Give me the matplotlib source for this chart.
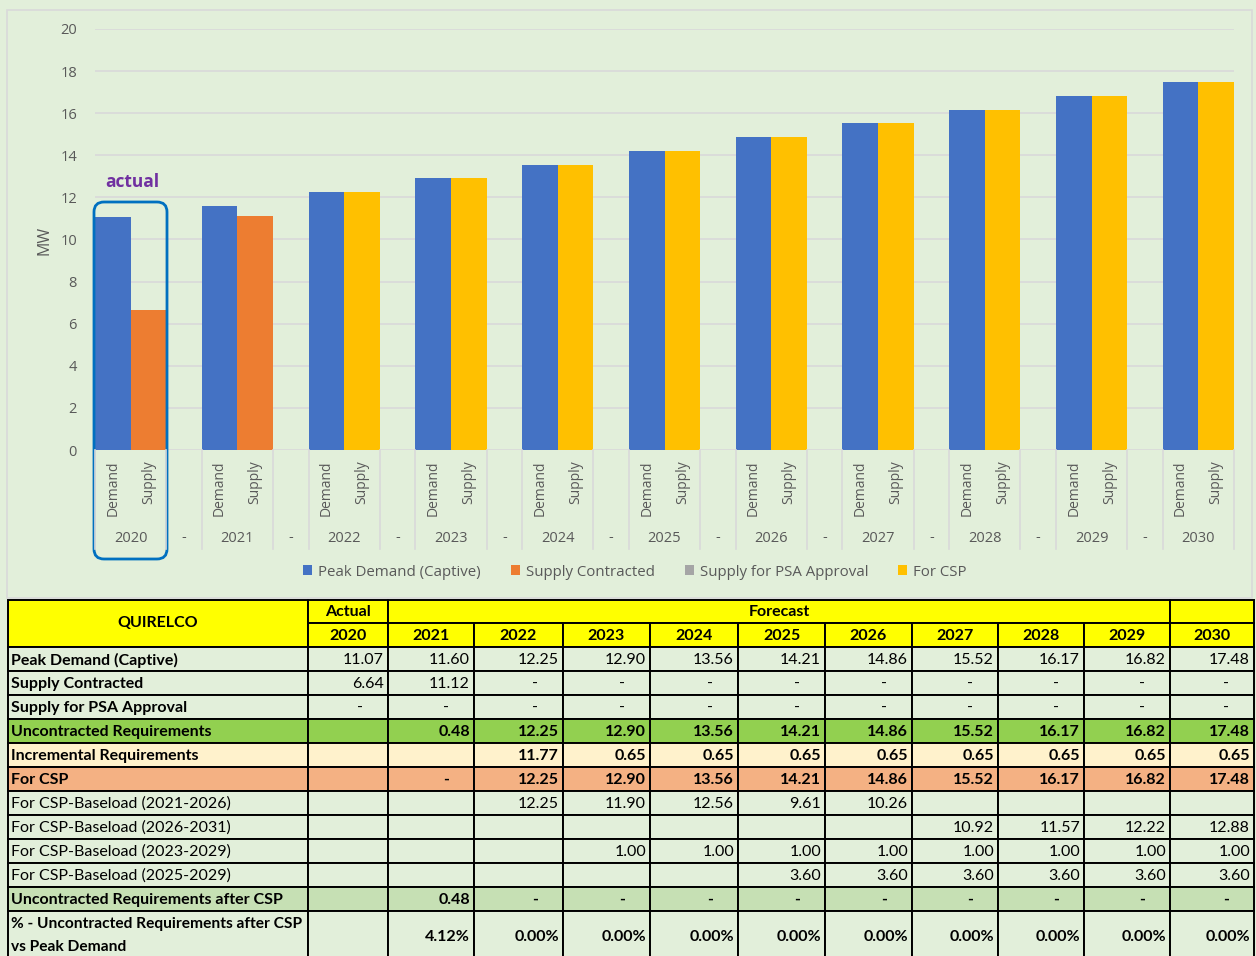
import numpy as np
import matplotlib.pyplot as plt
from matplotlib.patches import Rectangle, FancyBboxPatch
from matplotlib.transforms import blended_transform_factory

# chart data
years = [2020, 2021, 2022, 2023, 2024, 2025, 2026, 2027, 2028, 2029, 2030]
peak_demand = [11.07, 11.60, 12.25, 12.90, 13.56, 14.21, 14.86, 15.52, 16.17, 16.82, 17.48]
supply_contracted = [6.64, 11.12, 0, 0, 0, 0, 0, 0, 0, 0, 0]
psa_approval = [0, 0, 0, 0, 0, 0, 0, 0, 0, 0, 0]
for_csp = [None, 0, 12.25, 12.90, 13.56, 14.21, 14.86, 15.52, 16.17, 16.82, 17.48]

# table-only rows
uncontracted = [None, 0.48, 12.25, 12.90, 13.56, 14.21, 14.86, 15.52, 16.17, 16.82, 17.48]
incremental = [None, None, 11.77, 0.65, 0.65, 0.65, 0.65, 0.65, 0.65, 0.65, 0.65]
csp_2021_2026 = [None, None, 12.25, 11.90, 12.56, 9.61, 10.26, None, None, None, None]
csp_2026_2031 = [None, None, None, None, None, None, None, 10.92, 11.57, 12.22, 12.88]
csp_2023_2029 = [None, None, None, 1.00, 1.00, 1.00, 1.00, 1.00, 1.00, 1.00, 1.00]
csp_2025_2029 = [None, None, None, None, None, 3.60, 3.60, 3.60, 3.60, 3.60, 3.60]
uncontracted_after = [None, 0.48, 0, 0, 0, 0, 0, 0, 0, 0, 0]
pct_uncontracted = [None, 4.12, 0.00, 0.00, 0.00, 0.00, 0.00, 0.00, 0.00, 0.00, 0.00]

BG = '#E2EFDA'
GRID = '#D9D9D9'
TXT = '#595959'
CHART_FONT = ['Open Sans', 'DejaVu Sans']
TABLE_FONT = ['Lato', 'DejaVu Sans']

W, H = 1256, 956
fig = plt.figure(figsize=(W / 100, H / 100), dpi=100, facecolor=BG)

# ---- bar chart ----
ax = fig.add_axes([95 / W, 1 - 450 / H, (1234 - 95) / W, 421 / H])
ax.set_facecolor('none')

x_dem = np.arange(len(years)) * 3
x_sup = x_dem + 1
csp = np.array([v if v is not None else 0 for v in for_csp])
sc = np.array(supply_contracted)
psa = np.array(psa_approval)

ax.bar(x_dem, peak_demand, width=1, color='#4472C4', label='Peak Demand (Captive)', zorder=3)
ax.bar(x_sup, sc, width=1, color='#ED7D31', label='Supply Contracted', zorder=3)
ax.bar(x_sup, psa, width=1, bottom=sc, color='#A5A5A5', label='Supply for PSA Approval', zorder=3)
ax.bar(x_sup, csp, width=1, bottom=sc + psa, color='#FFC000', label='For CSP', zorder=3)

ax.set_xlim(-0.5, x_sup[-1] + 0.5)
ax.set_ylim(0, 20)
ax.set_yticks(np.arange(0, 21, 2))
ax.set_xticks([])
ax.grid(axis='y', color=GRID, lw=1.2, zorder=0)
ax.tick_params(axis='y', length=0, pad=13, labelsize=10.5, labelcolor=TXT)
for lab in ax.get_yticklabels():
    lab.set_family(CHART_FONT)
for s in ax.spines.values():
    s.set_visible(False)

ax.legend(loc='center', bbox_to_anchor=(635 / W, 1 - 572 / H), bbox_transform=fig.transFigure,
          ncol=4, frameon=False, handlelength=0.6, handleheight=0.6, handletextpad=0.4,
          columnspacing=2.0, prop={'family': CHART_FONT, 'size': 10.8}, labelcolor=TXT)

# overlay in pixel coordinates for labels, frame and table
ov = fig.add_axes([0, 0, 1, 1], zorder=5)
ov.set_xlim(0, W)
ov.set_ylim(H, 0)
ov.axis('off')
ov.patch.set_alpha(0)

mix = blended_transform_factory(ax.transData, ov.transData)

ov.add_patch(Rectangle((7, 10), 1245, 588, fill=False, ec=GRID, lw=1.2))
ov.text(45, 240, 'MW', rotation=90, ha='center', va='center', color=TXT, fontsize=11.5,
        family=CHART_FONT)

for k, yr in enumerate(years):
    for xs, name in [(x_dem[k], 'Demand'), (x_sup[k], 'Supply')]:
        ov.text(xs, 460, name, rotation=90, ha='center', va='top', transform=mix,
                color=TXT, fontsize=10, family=CHART_FONT)
    ov.text(x_dem[k] + 0.5, 538, str(yr), ha='center', va='center', transform=mix,
            color=TXT, fontsize=10.5, family=CHART_FONT)
    for xe in [x_dem[k] - 0.5, x_sup[k] + 0.5]:
        ov.plot([xe, xe], [450, 549], color=GRID, lw=1.2, transform=mix)
    if k < len(years) - 1:
        ov.text(x_sup[k] + 1, 538, '-', ha='center', va='center', transform=mix,
                color=TXT, fontsize=10.5, family=CHART_FONT)

# "actual" callout
ov.add_patch(FancyBboxPatch((94, 202), 73, 357, boxstyle='round,pad=0,rounding_size=10',
                            fill=False, ec='#0070C0', lw=2))
ov.text(132, 182, 'actual', ha='center', va='center', color='#7030A0', fontsize=12.5,
        fontweight='bold', family=CHART_FONT)

# ---- table ----
col_edges = [8, 308, 388, 474, 563, 650, 738, 825, 912, 998, 1084, 1170, 1254]
hdr_edges = [600, 623, 647]
row_h = 24


def fmt(v):
    if v is None:
        return ''
    if v == 0:
        return '-'
    return f'{v:.2f}'


def fmt_pct(v):
    return '' if v is None else f'{v:.2f}%'


rows = [
    ('Peak Demand (Captive)', [fmt(v) for v in peak_demand], True, False, BG),
    ('Supply Contracted', [fmt(v) for v in supply_contracted], True, False, BG),
    ('Supply for PSA Approval', [fmt(v) for v in psa_approval], True, False, BG),
    ('Uncontracted Requirements', [fmt(v) for v in uncontracted], True, True, '#92D050'),
    ('Incremental Requirements', [fmt(v) for v in incremental], True, True, '#FFF2CC'),
    ('For CSP', [fmt(v) for v in for_csp], True, True, '#F4B183'),
    ('For CSP-Baseload (2021-2026)', [fmt(v) for v in csp_2021_2026], False, False, BG),
    ('For CSP-Baseload (2026-2031)', [fmt(v) for v in csp_2026_2031], False, False, BG),
    ('For CSP-Baseload (2023-2029)', [fmt(v) for v in csp_2023_2029], False, False, BG),
    ('For CSP-Baseload (2025-2029)', [fmt(v) for v in csp_2025_2029], False, False, BG),
    ('Uncontracted Requirements after CSP', [fmt(v) for v in uncontracted_after], True, True, '#C6E0B4'),
    ('% - Uncontracted Requirements after CSP\nvs Peak Demand', [fmt_pct(v) for v in pct_uncontracted],
     True, True, BG),
]

LW = 1.4
FS = 11.5


def cell(x0, x1, y0, y1, color):
    ov.add_patch(Rectangle((x0, y0), x1 - x0, y1 - y0, fc=color, ec='black', lw=LW))


# header
cell(col_edges[0], col_edges[1], hdr_edges[0], hdr_edges[2], '#FFFF00')
ov.text((col_edges[0] + col_edges[1]) / 2, 623, 'QUIRELCO', ha='center', va='center',
        fontsize=FS, fontweight='bold', family=TABLE_FONT)
cell(col_edges[1], col_edges[2], hdr_edges[0], hdr_edges[1], '#FFFF00')
ov.text((col_edges[1] + col_edges[2]) / 2, 612, 'Actual', ha='center', va='center',
        fontsize=FS, fontweight='bold', family=TABLE_FONT)
cell(col_edges[2], col_edges[-2], hdr_edges[0], hdr_edges[1], '#FFFF00')
ov.text((col_edges[2] + col_edges[-2]) / 2, 612, 'Forecast', ha='center', va='center',
        fontsize=FS, fontweight='bold', family=TABLE_FONT)
cell(col_edges[-2], col_edges[-1], hdr_edges[0], hdr_edges[1], '#FFFF00')
for i, yr in enumerate(years):
    x0, x1 = col_edges[i + 1], col_edges[i + 2]
    cell(x0, x1, hdr_edges[1], hdr_edges[2], '#FFFF00')
    ov.text((x0 + x1) / 2, 636, str(yr), ha='center', va='center', fontsize=FS,
            fontweight='bold', family=TABLE_FONT)

y = hdr_edges[2]
for r, (label, vals, bold_lab, bold_val, color) in enumerate(rows):
    h = row_h if r < len(rows) - 1 else 52
    yc = y + row_h / 2 + 1 if r < len(rows) - 1 else y + 26
    cell(col_edges[0], col_edges[1], y, y + h, color)
    if '\n' in label:
        for j, part in enumerate(label.split('\n')):
            ov.text(col_edges[0] + 3, y + 13 + j * 23, part, ha='left', va='center', fontsize=11.2,
                    fontweight='bold' if bold_lab else 'normal', family=TABLE_FONT)
    else:
        ov.text(col_edges[0] + 3, yc, label, ha='left', va='center', fontsize=FS,
                fontweight='bold' if bold_lab else 'normal', family=TABLE_FONT)
    for i, v in enumerate(vals):
        x0, x1 = col_edges[i + 1], col_edges[i + 2]
        cell(x0, x1, y, y + h, color)
        if v == '-':
            ov.text(x1 - 28, yc, v, ha='center', va='center', fontsize=FS,
                    fontweight='bold' if bold_val else 'normal', family=TABLE_FONT)
        elif v:
            ov.text(x1 - 4, yc, v, ha='right', va='center', fontsize=FS,
                    fontweight='bold' if bold_val else 'normal', family=TABLE_FONT)
    y += h

fig.savefig('out.png', dpi=100, facecolor=BG)
